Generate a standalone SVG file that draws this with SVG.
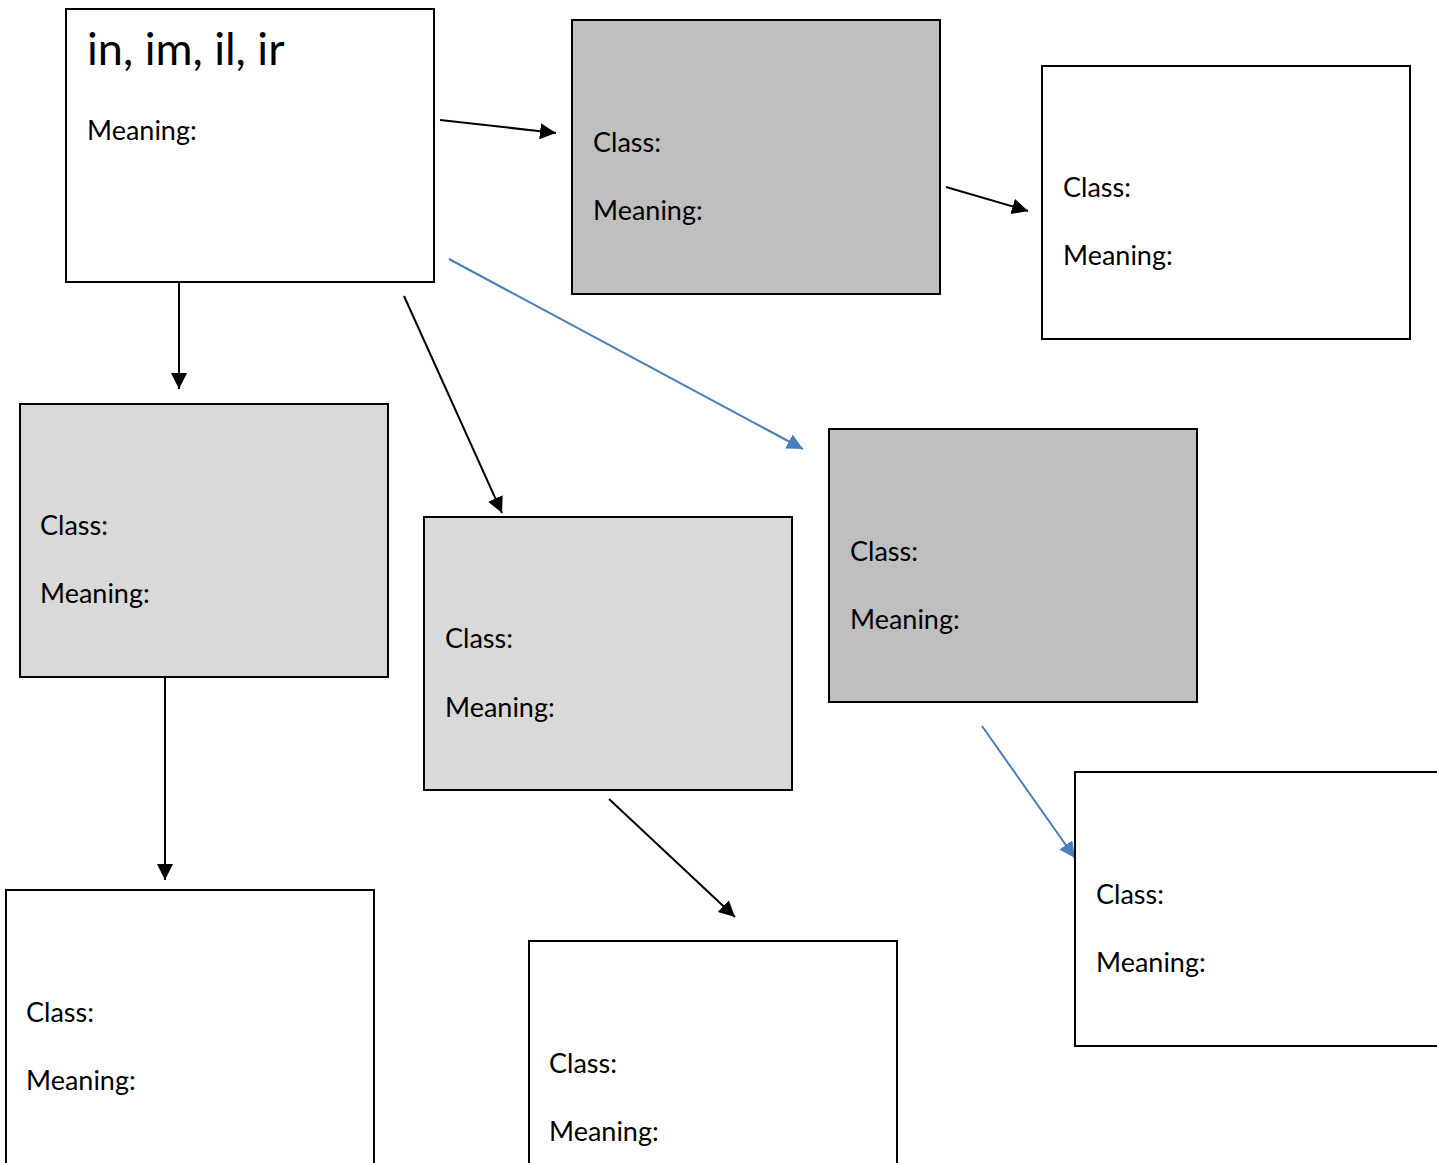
<svg xmlns="http://www.w3.org/2000/svg" width="1437" height="1163" viewBox="0 0 1437 1163">
<defs>
<style>
.box{stroke:#000;stroke-width:2}
.w{fill:#fff}.g1{fill:#bfbfbf}.g2{fill:#d9d9d9}
text{font-family:Lato,"Open Sans","Liberation Sans",sans-serif;font-size:27px;fill:#000}
.title{font-size:45px}
.k{stroke:#000;stroke-width:2;fill:none;marker-end:url(#ak)}
.b{stroke:#4a7ebb;stroke-width:2;fill:none;marker-end:url(#ab)}
</style>
<marker id="ak" markerUnits="userSpaceOnUse" markerWidth="20" markerHeight="16" refX="16" refY="8" orient="auto"><path d="M0,0 L16,8 L0,16 z" fill="#000"/></marker>
<marker id="ab" markerUnits="userSpaceOnUse" markerWidth="20" markerHeight="16" refX="16" refY="8" orient="auto"><path d="M0,0 L16,8 L0,16 z" fill="#4a7ebb"/></marker>
</defs>
<rect width="1437" height="1163" fill="#fff"/>
<g id="connectors">
<line class="k" x1="440" y1="120" x2="556" y2="133"/>
<line class="k" x1="946" y1="187" x2="1028" y2="211"/>
<line class="k" x1="179" y1="283" x2="179" y2="389"/>
<line class="k" x1="404" y1="296" x2="502" y2="513"/>
<line class="b" x1="449" y1="259" x2="803" y2="449"/>
<line class="k" x1="165" y1="678" x2="165" y2="880"/>
<line class="k" x1="609" y1="799" x2="735" y2="917"/>
<line class="b" x1="982" y1="726" x2="1075" y2="858"/>
</g>
<g id="n1"><rect class="box w" x="66" y="9" width="368" height="273"/><text class="title" x="87" y="65">in, im, il, ir</text><text x="87" y="140">Meaning:</text></g>
<g id="n2"><rect class="box g1" x="572" y="20" width="368" height="274"/><text x="593" y="152">Class:</text><text x="593" y="220">Meaning:</text></g>
<g id="n3"><rect class="box w" x="1042" y="66" width="368" height="273"/><text x="1063" y="197">Class:</text><text x="1063" y="265">Meaning:</text></g>
<g id="n4"><rect class="box g2" x="20" y="404" width="368" height="273"/><text x="40" y="535">Class:</text><text x="40" y="603">Meaning:</text></g>
<g id="n5"><rect class="box g2" x="424" y="517" width="368" height="273"/><text x="445" y="648">Class:</text><text x="445" y="717">Meaning:</text></g>
<g id="n6"><rect class="box g1" x="829" y="429" width="368" height="273"/><text x="850" y="561">Class:</text><text x="850" y="629">Meaning:</text></g>
<g id="n7"><rect class="box w" x="1075" y="772" width="380" height="274"/><text x="1096" y="904">Class:</text><text x="1096" y="972">Meaning:</text></g>
<g id="n8"><rect class="box w" x="6" y="890" width="368" height="290"/><text x="26" y="1022">Class:</text><text x="26" y="1090">Meaning:</text></g>
<g id="n9"><rect class="box w" x="529" y="941" width="368" height="240"/><text x="549" y="1073">Class:</text><text x="549" y="1141">Meaning:</text></g>
</svg>
